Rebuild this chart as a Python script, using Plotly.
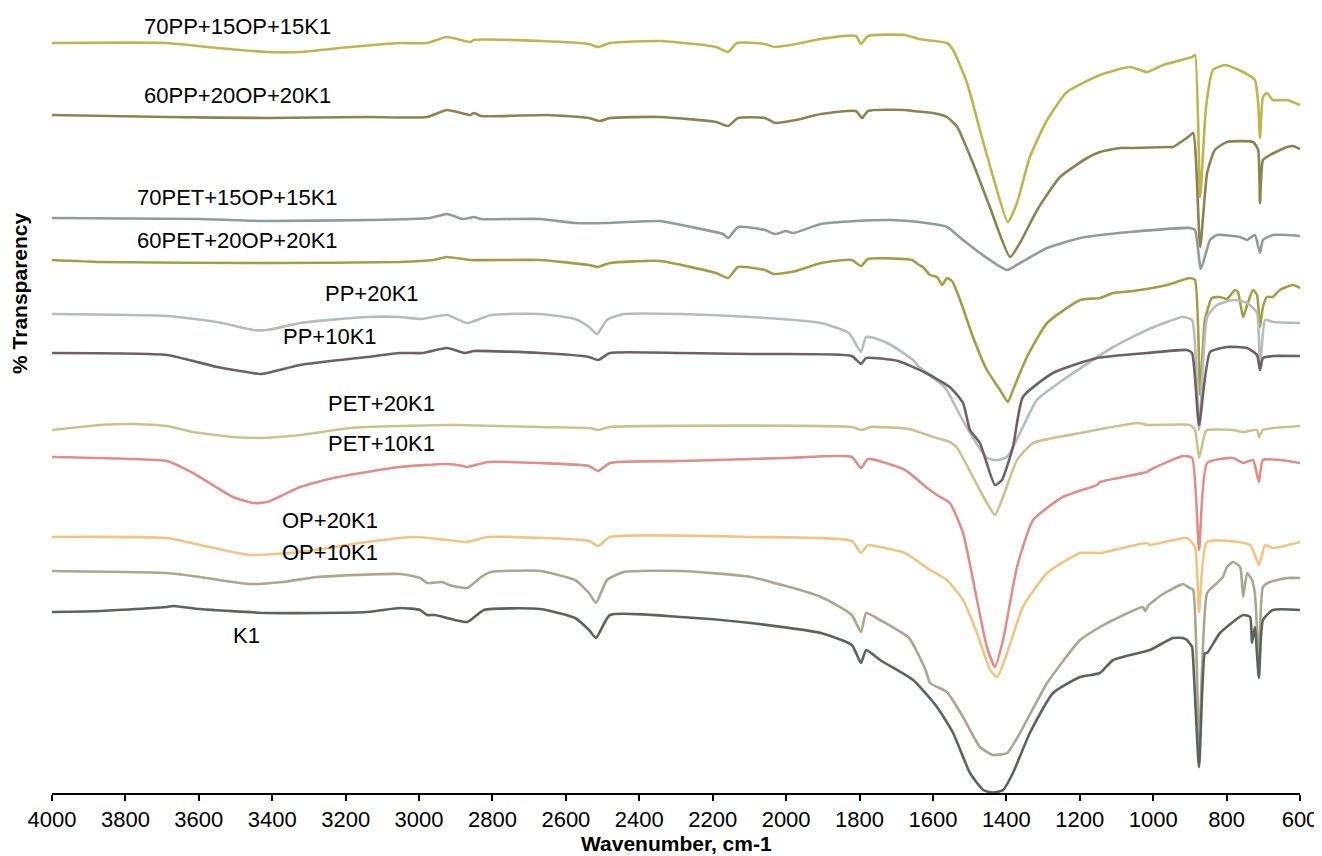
import plotly.graph_objects as go

# ---- Data: wavenumber (cm-1) and transmittance (offset, arbitrary units) ----
names = ["70PP+15OP+15K1", "60PP+20OP+20K1", "70PET+15OP+15K1", "60PET+20OP+20K1",
         "PP+20K1", "PP+10K1", "PET+20K1", "PET+10K1", "OP+20K1", "OP+10K1", "K1"]

colors = ["#BFB550", "#8B8352", "#8E9E96", "#A59D45", "#B4BEB8", "#6F6067",
          "#C8C38F", "#DE8F87", "#F0C583", "#A9A790", "#5A645D"]

wn_70pp = [4000, 3687, 3550, 3414, 3324, 3188, 3052, 2978, 2924, 2861, 2850, 2670, 2537, 2512, 2480,
           2344, 2191, 2158, 2134, 2058, 2030, 1973, 1905, 1810, 1796, 1777, 1676, 1638, 1562, 1545,
           1507, 1472, 1436, 1396, 1371, 1336, 1289, 1235, 1145, 1063, 1017, 973, 894, 886, 872, 856,
           837, 804, 755, 723, 714, 709, 701, 690, 674, 635, 600]
t_70pp = [750, 750, 745, 741, 741, 746, 750, 750, 756, 751, 753, 752, 749, 746, 750,
          752, 746, 741, 750, 749, 746, 749, 754, 757, 749, 757, 758, 754, 750, 743,
          710, 663, 616, 571, 590, 636, 673, 701, 718, 726, 721, 728, 736, 738, 596, 686,
          723, 728, 721, 713, 690, 655, 696, 700, 693, 693, 688]

wn_60pp = [4000, 3687, 3414, 3142, 2978, 2924, 2861, 2850, 2831, 2651, 2537, 2507, 2480, 2344, 2191,
           2158, 2131, 2058, 2030, 1973, 1905, 1810, 1793, 1777, 1676, 1654, 1600, 1562, 1534, 1491,
           1445, 1390, 1363, 1316, 1254, 1180, 1145, 1090, 1055, 962, 946, 905, 891, 872, 853, 832,
           799, 728, 714, 709, 701, 682, 635, 619, 600]
t_60pp = [678, 676, 675, 676, 676, 683, 678, 680, 677, 678, 675, 672, 675, 676, 671,
          667, 675, 675, 670, 673, 679, 682, 675, 682, 683, 682, 680, 676, 666, 630,
          586, 536, 550, 583, 616, 635, 641, 645, 645, 646, 646, 656, 660, 546, 620, 643,
          651, 651, 643, 590, 633, 638, 646, 647, 644]

wn_70pet = [4000, 3597, 3414, 3142, 2970, 2924, 2880, 2850, 2831, 2670, 2575, 2488, 2344, 2259, 2172,
            2158, 2131, 2058, 2030, 2000, 1981, 1905, 1810, 1714, 1638, 1562, 1518, 1472, 1398, 1363,
            1289, 1199, 1063, 900, 886, 870, 845, 826, 763, 744, 723, 709, 701, 674, 635, 600]
t_70pet = [575, 574, 572, 573, 575, 579, 574, 576, 574, 574, 570, 570, 572, 566, 559,
           555, 566, 563, 559, 562, 560, 569, 572, 573, 571, 566, 553, 540, 523, 530,
           545, 555, 561, 565, 563, 524, 553, 558, 556, 553, 558, 540, 553, 558, 558, 557]

wn_60pet = [4000, 3869, 3414, 3052, 2962, 2924, 2861, 2670, 2537, 2512, 2480, 2344, 2191, 2158, 2131,
            2058, 2033, 1973, 1905, 1821, 1796, 1777, 1657, 1638, 1627, 1608, 1589, 1575, 1562, 1548,
            1526, 1491, 1453, 1417, 1396, 1382, 1344, 1289, 1199, 1145, 1109, 1055, 962, 900, 886,
            872, 859, 840, 818, 799, 777, 769, 755, 744, 728, 717, 709, 701, 690, 674, 655, 619, 600]
t_60pet = [533, 531, 530, 531, 533, 536, 533, 533, 528, 526, 530, 532, 520, 515, 526,
           523, 519, 522, 530, 533, 527, 534, 533, 528, 526, 518, 516, 508, 515, 512,
           493, 456, 423, 403, 391, 403, 436, 470, 493, 495, 500, 502, 508, 515, 513,
           398, 473, 495, 496, 494, 503, 501, 476, 488, 503, 498, 466, 486, 496, 496, 503, 508, 505]

wn_pp20 = [4000, 3687, 3550, 3452, 3414, 3324, 3142, 3052, 2995, 2924, 2869, 2804, 2670, 2575, 2537,
           2515, 2488, 2442, 2286, 2096, 1905, 1829, 1796, 1782, 1744, 1714, 1654, 1638, 1581, 1562,
           1548, 1499, 1453, 1425, 1398, 1355, 1317, 1246, 1109, 1017, 919, 894, 875, 853, 826, 782,
           744, 717, 709, 695, 674, 600]
t_pp20 = [479, 477, 471, 463, 463, 470, 476, 476, 474, 478, 470, 478, 479, 474, 466,
          459, 473, 479, 479, 476, 470, 460, 441, 456, 453, 448, 433, 426, 410, 403,
          393, 360, 335, 333, 336, 366, 393, 413, 446, 463, 476, 473, 363, 476, 488, 493,
          490, 480, 423, 473, 471, 470]

wn_pp10 = [4000, 3687, 3550, 3433, 3414, 3324, 3142, 3052, 2989, 2924, 2875, 2850, 2670, 2537, 2512,
           2480, 2286, 2096, 1821, 1796, 1782, 1695, 1619, 1554, 1518, 1499, 1472, 1431, 1412, 1382,
           1355, 1273, 1153, 1017, 908, 894, 875, 845, 799, 744, 717, 709, 701, 674, 600]
t_pp10 = [440, 438, 426, 419, 420, 428, 436, 440, 440, 445, 440, 442, 440, 436, 433,
          440, 440, 439, 437, 429, 435, 432, 420, 406, 390, 363, 350, 308, 313, 346,
          396, 420, 435, 440, 443, 440, 368, 441, 446, 445, 438, 423, 435, 437, 437]

wn_pet20 = [4000, 3869, 3779, 3687, 3616, 3507, 3433, 3324, 3188, 3052, 2924, 2899, 2670, 2537, 2512,
            2480, 1821, 1793, 1771, 1665, 1600, 1554, 1534, 1491, 1453, 1431, 1409, 1371, 1327, 1199,
            1041, 1017, 900, 886, 875, 859, 853, 782, 755, 717, 712, 701, 600]
t_pet20 = [363, 368, 369, 367, 361, 356, 355, 358, 365, 367, 368, 368, 366, 365, 363,
           366, 366, 363, 366, 364, 356, 351, 345, 316, 290, 278, 296, 333, 350, 360,
           370, 368, 368, 363, 335, 360, 363, 363, 361, 363, 356, 363, 367]

wn_pet10 = [4000, 3778, 3687, 3616, 3507, 3452, 3414, 3324, 3234, 3142, 3052, 2924, 2880, 2869, 2812,
            2670, 2537, 2512, 2480, 2286, 2000, 1821, 1796, 1777, 1676, 1619, 1589, 1554, 1518, 1480,
            1453, 1431, 1409, 1371, 1327, 1246, 1153, 1145, 1017, 1009, 919, 894, 875, 853, 782, 755,
            728, 712, 701, 655, 600]
t_pet10 = [336, 334, 332, 320, 296, 290, 291, 306, 315, 321, 326, 329, 327, 326, 331,
           330, 327, 322, 330, 332, 335, 336, 325, 334, 323, 306, 298, 290, 260, 193,
           146, 126, 153, 226, 273, 296, 308, 311, 321, 323, 337, 335, 243, 330, 335, 330,
           333, 311, 333, 333, 330]

wn_op20 = [4000, 3687, 3597, 3461, 3324, 3142, 3052, 3006, 2924, 2869, 2812, 2537, 2512, 2480, 2096,
           1821, 1796, 1777, 1744, 1676, 1608, 1562, 1518, 1480, 1444, 1425, 1398, 1355, 1289, 1199,
           1145, 1017, 1009, 908, 886, 875, 853, 736, 712, 695, 674, 600]
t_op20 = [256, 255, 248, 238, 241, 251, 255, 256, 253, 251, 256, 252, 247, 256, 256,
          252, 240, 248, 246, 240, 223, 213, 193, 160, 123, 116, 140, 186, 220, 240,
          240, 250, 248, 255, 246, 181, 251, 248, 228, 248, 245, 251]

wn_op10 = [4000, 3687, 3597, 3461, 3371, 3278, 3052, 2997, 2978, 2937, 2918, 2869, 2831, 2804, 2670,
           2575, 2537, 2518, 2488, 2442, 2286, 2096, 1905, 1821, 1796, 1782, 1744, 1665, 1620, 1608,
           1562, 1518, 1472, 1436, 1398, 1363, 1289, 1199, 1145, 1109, 1028, 1022, 1012, 973, 927,
           919, 900, 891, 875, 853, 826, 810, 799, 782, 763, 755, 744, 731, 723, 712, 701, 682,
           635, 600]
t_op10 = [222, 220, 216, 209, 211, 216, 219, 215, 210, 211, 208, 205, 216, 221, 222,
          213, 200, 190, 213, 221, 222, 216, 196, 178, 161, 180, 173, 155, 123, 110,
          101, 76, 46, 38, 40, 60, 110, 153, 166, 173, 186, 182, 188, 199, 208,
          209, 205, 203, 48, 200, 210, 216, 226, 231, 226, 196, 220, 213, 200, 133, 206, 211,
          215, 215]

wn_k1 = [4000, 3869, 3687, 3670, 3597, 3414, 3142, 3052, 2997, 2978, 2957, 2869, 2823, 2670, 2575,
         2537, 2518, 2480, 2286, 2096, 1905, 1821, 1796, 1782, 1744, 1654, 1589, 1545, 1499, 1463,
         1436, 1409, 1382, 1336, 1273, 1199, 1145, 1109, 1009, 946, 919, 908, 894, 891, 875, 859,
         853, 818, 755, 736, 731, 723, 712, 701, 674, 600]
t_k1 = [181, 182, 186, 187, 184, 180, 181, 185, 183, 178, 178, 171, 183, 184, 175,
        163, 155, 178, 176, 170, 160, 148, 130, 143, 133, 113, 86, 60, 20, 3,
        0.5, 3, 20, 60, 100, 116, 120, 133, 143, 155, 155, 153, 146, 133, 26, 140,
        140, 160, 178, 176, 150, 166, 115, 173, 183, 183]

wavenumbers = [wn_70pp, wn_60pp, wn_70pet, wn_60pet, wn_pp20, wn_pp10,
               wn_pet20, wn_pet10, wn_op20, wn_op10, wn_k1]
transmittance = [t_70pp, t_60pp, t_70pet, t_60pet, t_pp20, t_pp10,
                 t_pet20, t_pet10, t_op20, t_op10, t_k1]

# label anchor positions (wavenumber, transmittance units)
label_wn = [3496, 3496, 3496, 3496, 3128, 3243, 3101, 3101, 3243, 3243, 3471]
label_t = [767, 698, 596, 553, 500, 457, 390, 350, 273, 241, 158]

tick_vals = list(range(4000, 599, -200))

FONT = "Arial, 'Liberation Sans', sans-serif"

fig = go.Figure()
for name, col, xs, ys in zip(names, colors, wavenumbers, transmittance):
    fig.add_trace(go.Scatter(x=xs, y=ys, mode="lines", name=name,
                             line=dict(color=col, width=2.6, shape="spline", smoothing=0.5),
                             hoverinfo="name"))

annotations = []
for name, lx, ly in zip(names, label_wn, label_t):
    annotations.append(dict(x=lx, y=ly, xref="x", yref="y", text=name, showarrow=False,
                            xanchor="center", yanchor="middle",
                            font=dict(family=FONT, size=22, color="black")))

annotations.append(dict(x=0.5, y=-0.064, xref="paper", yref="paper",
                        text="<b>Wavenumber, cm-1</b>", showarrow=False,
                        xanchor="center", yanchor="middle",
                        font=dict(family=FONT, size=21, color="black")))
annotations.append(dict(x=-0.0255, y=0.636, xref="paper", yref="paper",
                        text="<b>% Transparency</b>", showarrow=False, textangle=-90,
                        xanchor="center", yanchor="middle",
                        font=dict(family=FONT, size=21, color="black")))

fig.update_layout(
    width=1314, height=848,
    margin=dict(l=44, r=22, t=0, b=63),
    paper_bgcolor="white", plot_bgcolor="white",
    showlegend=False,
    font=dict(family=FONT, size=22, color="black"),
    annotations=annotations,
    xaxis=dict(range=[4000, 600], tickvals=tick_vals, ticktext=[str(v) for v in tick_vals],
               showline=True, linecolor="black", linewidth=1.5,
               ticks="outside", ticklen=6, tickwidth=1.5, tickcolor="black",
               showgrid=False, zeroline=False,
               tickfont=dict(family=FONT, size=22, color="black")),
    yaxis=dict(range=[0, 785], visible=False, showgrid=False, zeroline=False),
)

fig.write_html("out.html")
